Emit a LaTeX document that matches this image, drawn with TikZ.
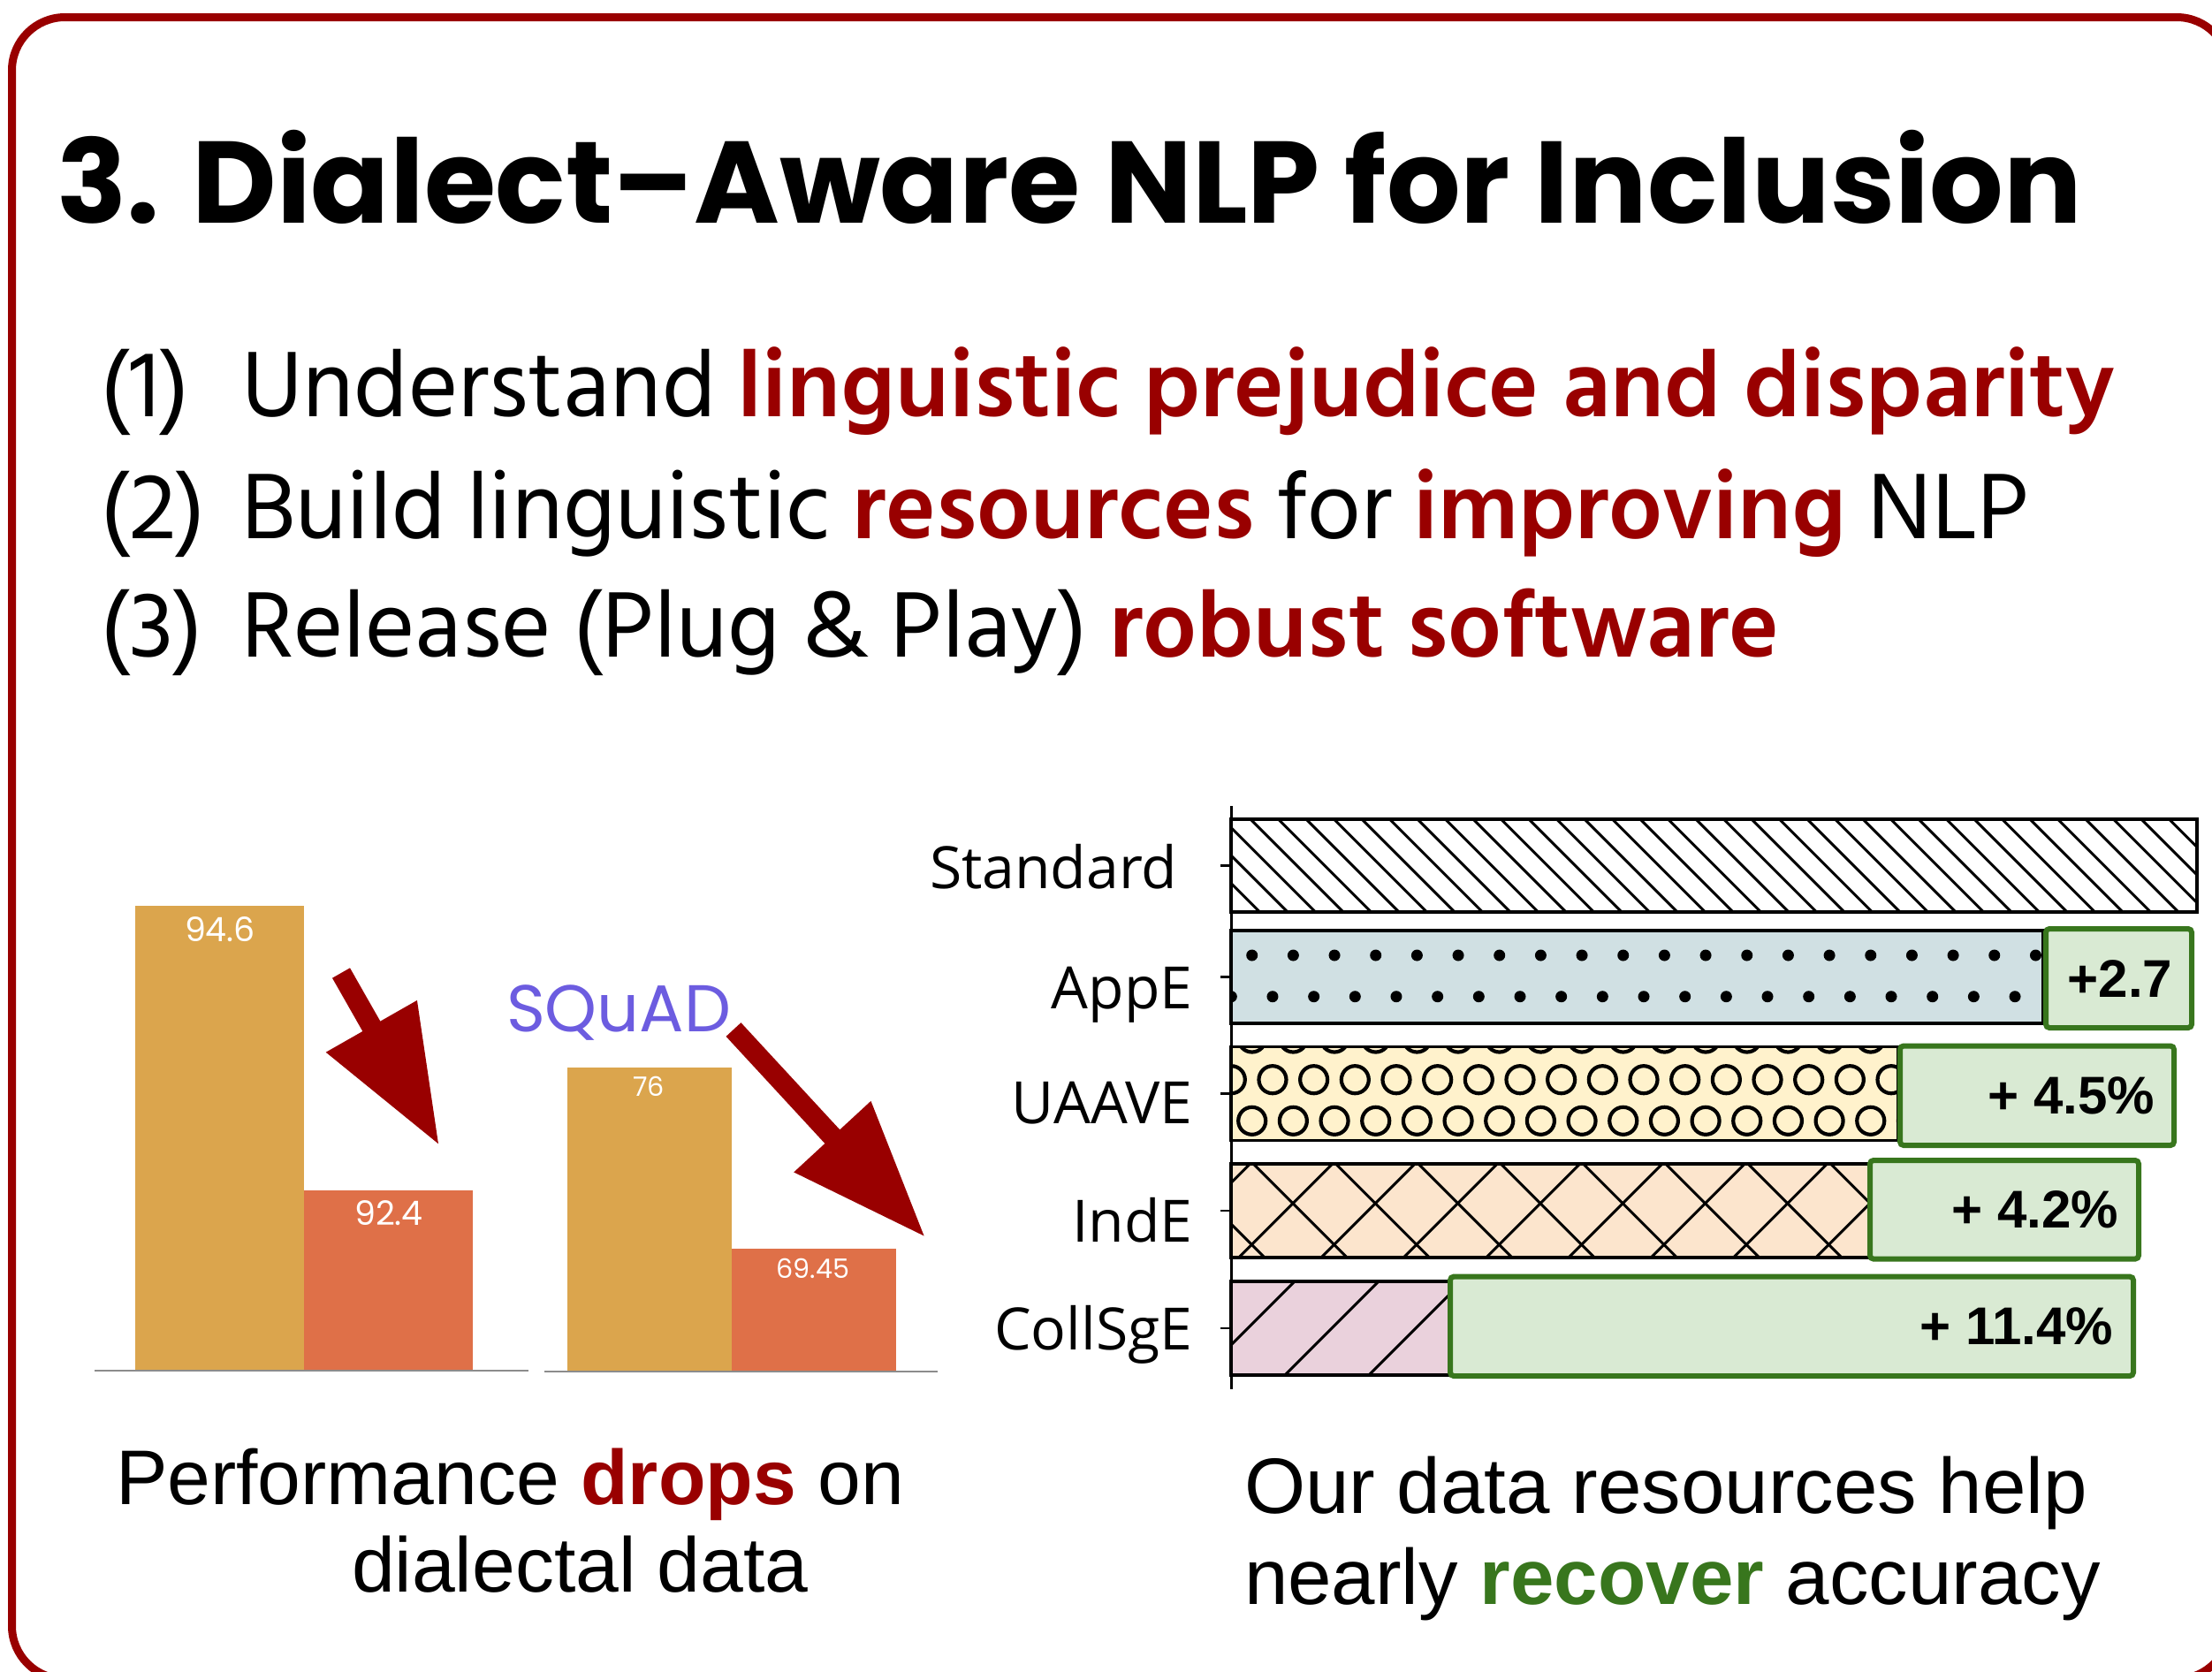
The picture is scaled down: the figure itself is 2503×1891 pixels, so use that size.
\documentclass[tikz,border=0pt]{standalone}
\usepackage{fontspec}
\setmainfont{Liberation Sans}
\newfontfamily\popfont{Poppins}
\newfontfamily\hindfont{Hind Siliguri}
\newfontfamily\osfont{Open Sans}
\usetikzlibrary{arrows.meta}
\definecolor{dred}{HTML}{990000}
\definecolor{gtext}{HTML}{38761D}
\definecolor{gfill}{HTML}{D9EAD3}
\definecolor{appefill}{HTML}{D0E0E3}
\definecolor{uaavefill}{HTML}{FFF2CC}
\definecolor{indefill}{HTML}{FCE5CD}
\definecolor{collfill}{HTML}{EAD1DC}
\definecolor{goldbar}{HTML}{DBA54D}
\definecolor{orngbar}{HTML}{DF7048}
\definecolor{squadc}{HTML}{6C5CE0}
\begin{document}
\begin{tikzpicture}[x=0.1mm,y=-0.1mm,
  txt/.style={inner sep=0pt, outer sep=0pt, anchor=base west},
  titlef/.style={font=\popfont\bfseries\fontsize{37.4pt}{45pt}\selectfont},
  bulf/.style={font=\hindfont\fontsize{30.7pt}{37pt}\selectfont},
  capf/.style={font=\fontsize{25.3pt}{30pt}\selectfont},
  capl/.style={font=\fontsize{24.95pt}{30pt}\selectfont},
  labf/.style={font=\osfont\fontsize{18.8pt}{23pt}\selectfont, inner sep=0pt, anchor=base east},
  gainf/.style={font=\bfseries\fontsize{17.1pt}{21pt}\selectfont, inner sep=0pt, anchor=east},
  numf/.style={font=\popfont\fontsize{10.8pt}{13pt}\selectfont, text=white, inner sep=0pt},
  numsf/.style={font=\popfont\fontsize{8.6pt}{10pt}\selectfont, text=white, inner sep=0pt},
  barline/.style={draw=black, line width=0.35mm},
  hatchline/.style={draw=black, line width=0.3mm},
  gbox/.style={draw=gtext, fill=gfill, line width=0.6mm, rounded corners=0.4mm},
  bigarrow/.style={draw=dred, line width=2.3mm, -{Triangle[length=15.5mm,width=11.2mm]}},
  baseln/.style={draw=black!45, line width=0.2mm}
]
\useasboundingbox (0,0) rectangle (2503,1891);
\fill[white] (0,0) rectangle (2503,1891);
% frame
\draw[dred, line width=0.9mm, rounded corners=6mm] (13.5,19.5) rectangle (2523,1900);

% title and bullets
\node[txt, titlef] (title) at (64,252) {3. Dialect–Aware NLP for Inclusion};
\node[txt, bulf] (n1) at (113,471) {(1)};
\node[txt, bulf] (b1) at (273,471) {Understand \textcolor{dred}{\bfseries linguistic prejudice and disparity}};
\node[txt, bulf] (n2) at (113,609) {(2)};
\node[txt, bulf] (b2) at (273,609) {Build linguistic \textcolor{dred}{\bfseries resources} for \textcolor{dred}{\bfseries improving} NLP};
\node[txt, bulf] (n3) at (113,743) {(3)};
\node[txt, bulf] (b3) at (273,743) {Release (Plug \& Play) \textcolor{dred}{\bfseries robust software}};

% left chart
\fill[goldbar] (153,1025) rectangle (344,1551);
\fill[orngbar] (344,1347) rectangle (535,1551);
\draw[baseln] (107,1551) -- (598,1551);
\fill[goldbar] (642,1207.5) rectangle (828,1552);
\fill[orngbar] (828,1413) rectangle (1014,1552);
\draw[baseln] (616,1552) -- (1061,1552);
\node[numf] (v1) at (249,1052) {94.6};
\node[numf] (v2) at (440,1373) {92.4};
\node[numsf] (v3) at (734,1229) {76};
\node[numsf] (v4) at (920,1435) {69.45};
\node[txt, font=\popfont\fontsize{21.3pt}{26pt}\selectfont, text=squadc] (squad) at (573,1167) {SQuAD};
\coordinate (a1s) at (386,1101);
\coordinate (a1e) at (497,1296);
\coordinate (a2s) at (830,1165);
\coordinate (a2e) at (1047,1400);
\draw[bigarrow] (a1s) -- (a1e);
\draw[bigarrow] (a2s) -- (a2e);

% right chart: Standard
\fill[white] (1393,927) rectangle (2486,1032);
\begin{scope}
\clip (1393,927) rectangle (2486,1032);
\foreach \k in {0,...,39} {\draw[hatchline] (1279.1+31.5*\k,917) -- ++(125,125);}
\end{scope}
\draw[barline] (1393,927) rectangle (2486,1032);

% AppE
\fill[appefill] (1393,1053) rectangle (2312,1158);
\begin{scope}
\clip (1393,1053) rectangle (2312,1158);
\foreach \k in {0,...,19} {
  \fill (1416.7+46.67*\k,1081) circle (0.65mm);
  \fill (1393.3+46.67*\k,1127.7) circle (0.65mm);}
\end{scope}
\draw[barline] (1393,1053) rectangle (2312,1158);

% UAAVE
\fill[uaavefill] (1393,1184.5) rectangle (2148,1290.5);
\begin{scope}
\clip (1393,1184.5) rectangle (2148,1290.5);
\foreach \k in {0,...,17} {
  \draw[line width=0.42mm] (1416.7+46.67*\k,1175) circle (1.55mm);
  \draw[line width=0.42mm] (1393.3+46.67*\k,1221.7) circle (1.55mm);
  \draw[line width=0.42mm] (1416.7+46.67*\k,1268.3) circle (1.55mm);}
\end{scope}
\draw[barline] (1393,1184.5) rectangle (2148,1290.5);

% IndE
\fill[indefill] (1393,1317) rectangle (2116,1423);
\begin{scope}
\clip (1393,1317) rectangle (2116,1423);
\foreach \k in {-2,...,8} {
  \draw[hatchline] (1408.3+93.3*\k,1307) -- ++(126,126);
  \draw[hatchline] (1517.7+93.3*\k,1307) -- ++(-126,126);}
\end{scope}
\draw[barline] (1393,1317) rectangle (2116,1423);

% CollSgE
\fill[collfill] (1393,1450) rectangle (1641,1556);
\begin{scope}
\clip (1393,1450) rectangle (1641,1556);
\foreach \k in {-1,...,3} {\draw[hatchline] (1475+95*\k,1440) -- ++(-126,126);}
\end{scope}
\draw[barline] (1393,1450) rectangle (1641,1556);

% gain boxes
\draw[gbox] (2315,1051) rectangle (2480,1163);
\draw[gbox] (2150,1183.5) rectangle (2460,1296);
\draw[gbox] (2116,1313) rectangle (2420,1424.6);
\draw[gbox] (1641,1444.6) rectangle (2414,1557);
\node[gainf] (g1) at (2459,1107) {+2.7};
\node[gainf] (g2) at (2439,1240) {+ 4.5\%};
\node[gainf] (g3) at (2398,1369) {+ 4.2\%};
\node[gainf] (g4) at (2392,1501) {+ 11.4\%};

% axis and ticks
\draw[line width=0.3mm] (1393,912) -- (1393,1572);
\foreach \yy in {979.5,1105.5,1237.5,1370,1503} {\draw[line width=0.25mm] (1381,\yy) -- (1393,\yy);}
\node[labf] (lstd) at (1333,1005) {Standard};
\node[labf] (lapp) at (1350,1141) {AppE};
\node[labf] (lua) at (1350,1271) {UAAVE};
\node[labf] (lind) at (1350,1405) {IndE};
\node[labf] (lcoll) at (1350,1527) {CollSgE};

% captions
\node[txt, capl] (c1) at (131,1702) {Performance \textcolor{dred}{\bfseries drops} on};
\node[txt, capl] (c2) at (398,1801) {dialectal data};
\node[txt, capf] (c3) at (1408,1712) {Our data resources help};
\node[txt, capf] (c4) at (1408,1815) {nearly \textcolor{gtext}{\bfseries recover} accuracy};
\end{tikzpicture}
\end{document}
